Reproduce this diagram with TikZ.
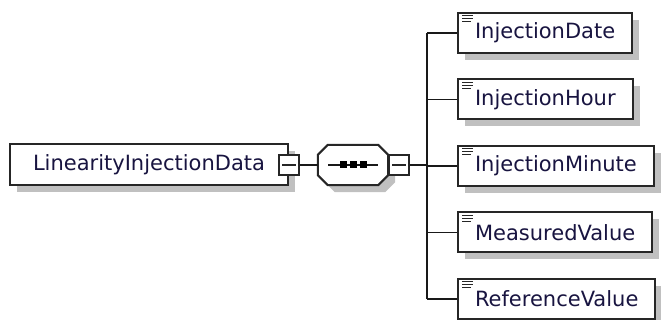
\documentclass[tikz,border=0pt]{standalone}
\usepackage{fontspec}
\setmainfont{DejaVu Sans}
\usetikzlibrary{positioning, calc, shadows}

\definecolor{txtcol}{RGB}{24,20,64}
\definecolor{shadecol}{RGB}{192,192,192}

\begin{document}
\begin{tikzpicture}[
    x=1pt, y=-1pt,
    block/.style={draw=black!85, line width=2pt, fill=white,
        drop shadow={shadow xshift=7pt, shadow yshift=-7pt, fill=shadecol, opacity=1}},
    elem/.style={block, minimum height=40pt, inner xsep=17pt, anchor=west,
        text=txtcol, font=\fontsize{21}{25}\selectfont,
        path picture={
            \foreach \k/\w in {0/11, 3/11, 6/9} {
                \draw[line width=1pt] ([shift={(4,3+\k)}]path picture bounding box.north west) -- ++(\w,0);
            }
        }},
    expander/.style={draw=black!85, line width=1.6pt, fill=white, minimum size=20pt, inner sep=0pt,
        path picture={\draw[line width=1.4pt] ([xshift=3pt]path picture bounding box.west) -- ([xshift=-3pt]path picture bounding box.east);}},
    conn/.style={line width=1.8pt, black!90}
]
    \useasboundingbox (0,0) rectangle (661,320);

    % parent element
    \draw (9,165) node[block, anchor=west, minimum width=278pt, minimum height=41pt,
        text=txtcol, font=\fontsize{21}{25}\selectfont] (lid) {LinearityInjectionData};
    \draw (lid.east) node[expander] (exp1) {};

    % sequence compositor
    \draw (353,165) node[minimum width=70pt, minimum height=40pt, inner sep=0pt] (seq) {};
    \fill[shadecol, transform canvas={shift={(7pt,-7pt)}}] ([xshift=10pt]seq.north west) -- ([xshift=-10pt]seq.north east) -- ([yshift=-10pt]seq.north east) -- ([yshift=10pt]seq.south east) -- ([xshift=-10pt]seq.south east) -- ([xshift=10pt]seq.south west) -- ([yshift=10pt]seq.south west) -- ([yshift=-10pt]seq.north west) -- cycle;
    \draw[fill=white, draw=black!85, line width=2pt] ([xshift=10pt]seq.north west) -- ([xshift=-10pt]seq.north east) -- ([yshift=-10pt]seq.north east) -- ([yshift=10pt]seq.south east) -- ([xshift=-10pt]seq.south east) -- ([xshift=10pt]seq.south west) -- ([yshift=10pt]seq.south west) -- ([yshift=-10pt]seq.north west) -- cycle;
    \draw[conn] ([xshift=-25pt]seq.center) -- ([xshift=25pt]seq.center);
    \foreach \d in {-10, 0, 10} {
        \fill[black] ($(seq.center) + (\d-3.5, -3.5)$) rectangle ++(7,7);
    }
    \draw (seq.east) node[expander, anchor=west] (exp2) {};

    \draw[conn] (exp1.east) -- (seq.west);

    % child elements
    \draw (427,165) coordinate (hub);
    \foreach \lbl [count=\i from 0] in {InjectionDate, InjectionHour, InjectionMinute, MeasuredValue, ReferenceValue} {
        \draw (457, 33+66.5*\i) node[elem] (c\i) {\lbl};
        \draw[conn] (hub|-c\i.west) -- (c\i.west);
    }
    \draw[conn] (hub|-c0.west) -- (hub|-c4.west);
    \draw[conn] (exp2.east) -- (hub);

\end{tikzpicture}
\end{document}
